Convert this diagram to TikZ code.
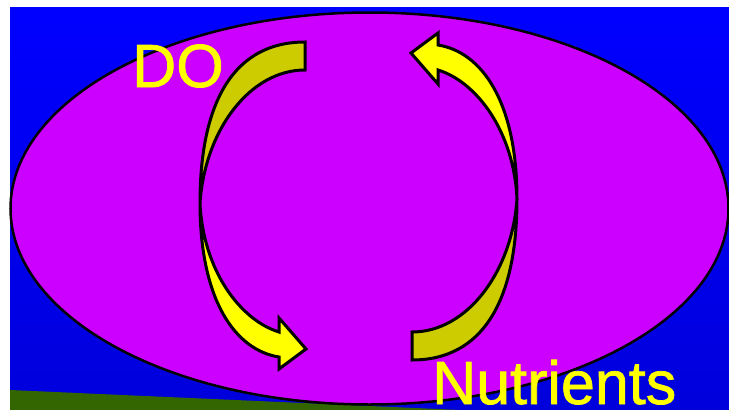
\documentclass[tikz,border=0pt]{standalone}
\usepackage{fontspec}
\setmainfont{Liberation Sans}
\newfontfamily\labelfont[FakeBold=1.2]{Liberation Sans}
\definecolor{bgtop}{RGB}{0,0,255}
\definecolor{bgbot}{RGB}{0,0,220}
\definecolor{oval}{RGB}{204,0,255}
\definecolor{ground}{RGB}{51,102,0}
\definecolor{arrowfront}{RGB}{255,255,0}
\definecolor{arrowback}{RGB}{204,204,0}
\tikzset{
  arrowpart/.style={draw=black, line width=3pt, line join=miter},
  biglabel/.style={text=arrowfront, font=\labelfont\fontsize{61}{61}\selectfont, inner sep=0pt, anchor=base west},
}
\begin{document}
\begin{tikzpicture}[x=1pt,y=-1pt]
\useasboundingbox (0,0) rectangle (729,410);
% background
\shade[top color=bgtop, bottom color=bgbot] (10,7) rectangle (729,410);
\fill[ground] (10,390) -- (460,410) -- (10,410) -- cycle;
% oval
\draw[fill=oval, line width=2.5pt] (369.5,208.5) ellipse [x radius=359, y radius=196];
% left curved arrow (DO)
\begin{scope}
  \draw[arrowpart, fill=arrowback] (305,42) .. controls (235,42) and (200,100) .. (200,203)
     .. controls (205,130) and (250,70) .. (305,70) -- cycle;
  \draw[arrowpart, fill=arrowfront] (200,203) .. controls (200,300) and (235,350) .. (279,357)
     -- (279,369) -- (306,349) -- (279,318) -- (279,332)
     .. controls (240,320) and (203,270) .. (200,203) -- cycle;
\end{scope}
% right curved arrow (Nutrients)
\begin{scope}[rotate around={180:(358.5,201)}]
  \draw[arrowpart, fill=arrowback] (305,42) .. controls (235,42) and (200,100) .. (200,203)
     .. controls (205,130) and (250,70) .. (305,70) -- cycle;
  \draw[arrowpart, fill=arrowfront] (200,203) .. controls (200,300) and (235,350) .. (279,357)
     -- (279,369) -- (306,349) -- (279,318) -- (279,332)
     .. controls (240,320) and (203,270) .. (200,203) -- cycle;
\end{scope}
% labels
\node[biglabel] (do) at (132,87) {DO};
\node[biglabel] (nutrients) at (432,404) {Nutrients};
\end{tikzpicture}
\end{document}
